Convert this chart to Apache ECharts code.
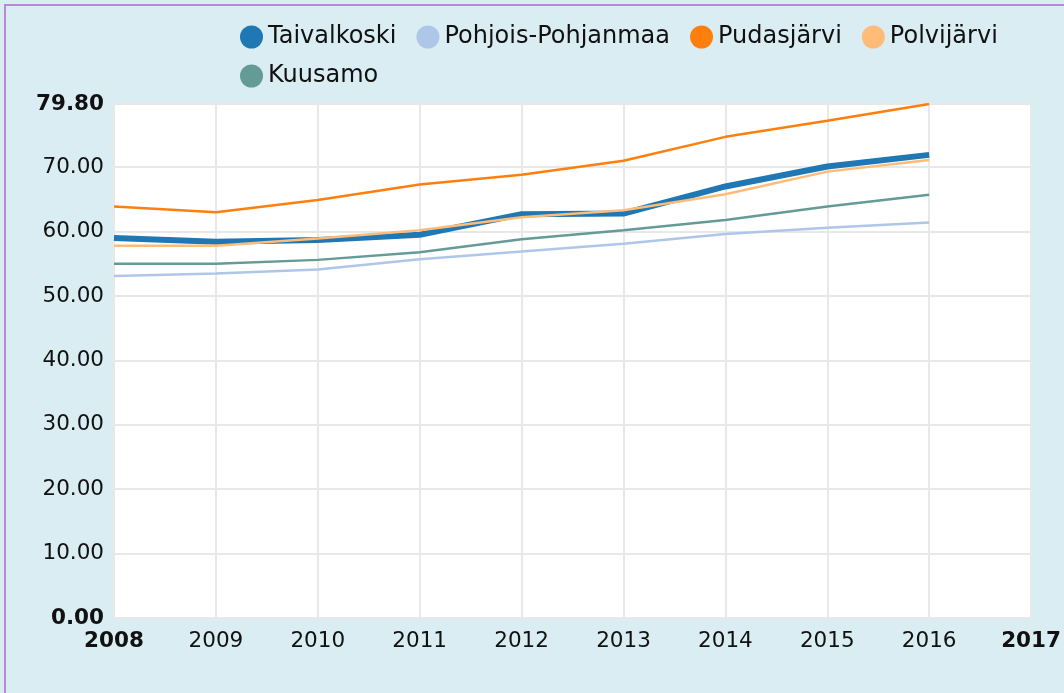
<!DOCTYPE html>
<html>
<head>
<meta charset="utf-8">
<script src="https://cdn.jsdelivr.net/npm/echarts@6/dist/echarts.min.js"></script>
<style>
html,body{margin:0;padding:0;background:#daedf3;overflow:hidden;width:1064px;height:693px;}
#c{position:absolute;left:0;top:0;width:1064px;height:693px;}
#frame{position:absolute;left:4px;top:4px;width:1100px;height:720px;border-left:2px solid #b88ad6;border-top:2px solid #b88ad6;pointer-events:none;}
</style>
</head>
<body>
<div id="c"></div>
<div id="frame"></div>
<script>
const years = ['2008','2009','2010','2011','2012','2013','2014','2015','2016','2017'];
const seriesNames = ['Taivalkoski','Pohjois-Pohjanmaa','Pudasjärvi','Polvijärvi','Kuusamo'];
const taivalkoski = [59.0, 58.4, 58.7, 59.5, 62.7, 62.8, 67.0, 70.1, 71.9];
const pohjoisPohjanmaa = [53.1, 53.5, 54.1, 55.7, 56.9, 58.1, 59.6, 60.6, 61.4];
const pudasjarvi = [63.9, 63.0, 64.9, 67.3, 68.8, 71.0, 74.7, 77.2, 79.8];
const polvijarvi = [57.8, 57.8, 58.9, 60.2, 62.2, 63.3, 65.8, 69.3, 71.1];
const kuusamo = [55.0, 55.0, 55.6, 56.8, 58.8, 60.2, 61.8, 63.9, 65.7];
const yMin = 0, yMax = 79.8, yStep = 10;

const colors = ['#1f77b4','#aec7e8','#ff7f0e','#ffbb78','#649b96'];
const widths = [6, 2.5, 2.5, 2.5, 2.5];
const dataSets = [taivalkoski, pohjoisPohjanmaa, pudasjarvi, polvijarvi, kuusamo];
const font = 'DejaVu Sans';

const chart = echarts.init(document.getElementById('c'), null, {renderer:'canvas'});
chart.setOption({
  backgroundColor: '#daedf3',
  animation: false,
  color: colors,
  legend: {
    data: seriesNames.map(n => ({name: n, icon: 'circle'})),
    left: 235, top: 20, width: 800,
    itemWidth: 23, itemHeight: 23, itemGap: 15,
    textStyle: {fontFamily: font, fontSize: 24, color: '#111', lineHeight: 24, padding: [0,5,0,0]}
  },
  grid: {left: 114, right: 30, top: 104, bottom: 75, containLabel: false,
         show: true, backgroundColor: '#ffffff', borderWidth: 0},
  xAxis: {
    type: 'category', boundaryGap: false, data: years,
    axisLine: {show: false}, axisTick: {show: false},
    splitLine: {show: true, lineStyle: {color: '#e8e8e8', width: 2}},
    axisLabel: {
      fontFamily: font, fontSize: 21.5, color: '#111', margin: 12, interval: 0,
      formatter: (v, i) => (i === 0 || i === years.length - 1) ? '{b|' + v + '}' : v,
      rich: {b: {fontFamily: font, fontSize: 21.5, fontWeight: 'bold', color: '#111'}}
    }
  },
  yAxis: {
    type: 'value', min: yMin, max: yMax, interval: yStep,
    axisLine: {show: false}, axisTick: {show: false},
    splitLine: {show: true, lineStyle: {color: '#e8e8e8', width: 2}},
    axisLabel: {
      fontFamily: font, fontSize: 21.5, color: '#111', margin: 10,
      formatter: v => (v === yMin || Math.abs(v - yMax) < 1e-6) ? '{b|' + v.toFixed(2) + '}' : v.toFixed(2),
      rich: {b: {fontFamily: font, fontSize: 21.5, fontWeight: 'bold', color: '#111'}}
    }
  },
  series: seriesNames.map((n, i) => ({
    name: n, type: 'line', data: dataSets[i], showSymbol: false, symbol: 'none',
    lineStyle: {width: widths[i], color: colors[i]}, itemStyle: {color: colors[i]},
    z: 2
  }))
});
</script>
</body>
</html>
